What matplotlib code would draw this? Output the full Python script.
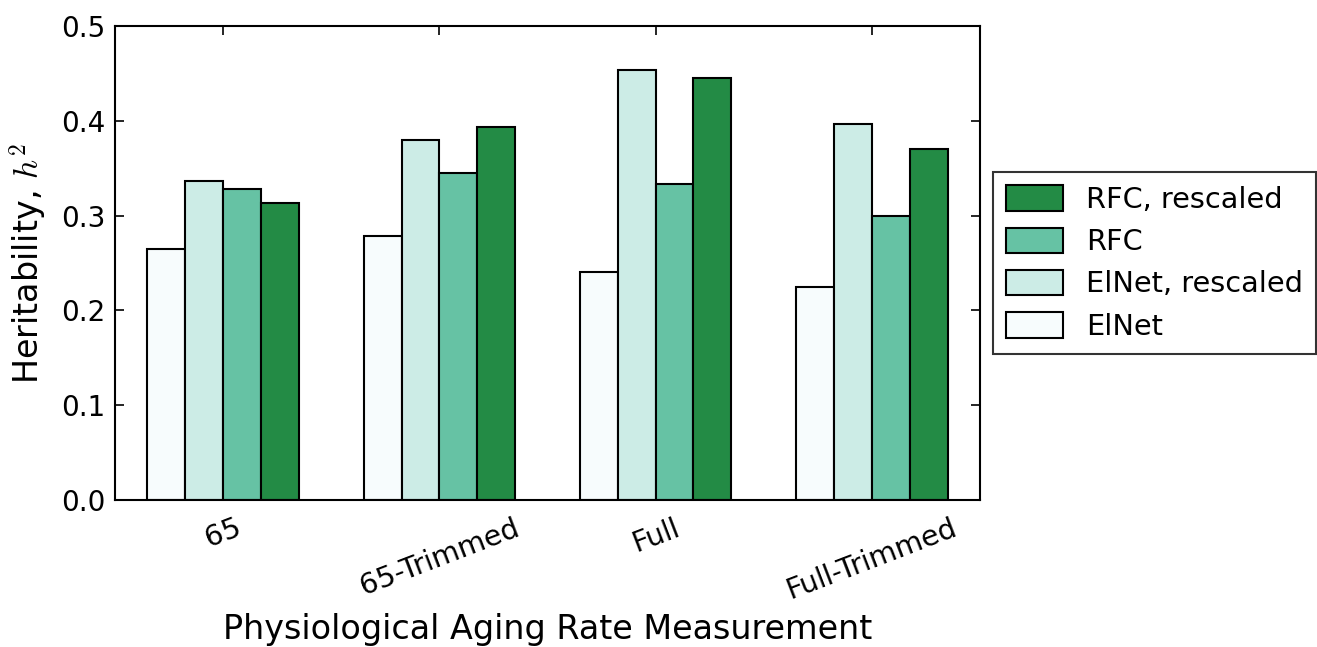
import numpy as np
import matplotlib
matplotlib.use("Agg")
import matplotlib.pyplot as plt

measurements = ["65", "65-Trimmed", "Full", "Full-Trimmed"]
series_names = ["ElNet", "ElNet, rescaled", "RFC", "RFC, rescaled"]
elnet = [0.265, 0.278, 0.241, 0.225]
elnet_rescaled = [0.337, 0.380, 0.454, 0.397]
rfc = [0.328, 0.345, 0.333, 0.300]
rfc_rescaled = [0.313, 0.393, 0.445, 0.370]
colors = ["#f7fcfd", "#ccece6", "#66c2a4", "#238b45"]

plt.rcParams["font.family"] = "DejaVu Sans"
plt.rcParams["mathtext.fontset"] = "cm"

fig = plt.figure(figsize=(13.17, 6.47), dpi=100)
ax = fig.add_axes([115 / 1317, 1 - 500 / 647, 865 / 1317, 474 / 647])

x = np.arange(len(measurements))
width = 0.175
handles = []
for k, (vals, name) in enumerate(zip([elnet, elnet_rescaled, rfc, rfc_rescaled], series_names)):
    b = ax.bar(x - 2 * width + k * width, vals, width, align="edge",
               color=colors[k], edgecolor="black", linewidth=1.5, label=name)
    handles.append(b)

ax.set_xlim(-0.5, 3.5)
ax.set_ylim(0, 0.5)
ax.set_yticks(np.arange(0, 0.51, 0.1))
ax.set_xticks(x)
ax.set_xticklabels(measurements, rotation=21, ha="center")
ax.tick_params(direction="in", top=True, right=True, length=6.5, width=1.2,
               labelsize=20, pad=7)
ax.tick_params(axis="x", labelsize=20.5, pad=10)
for s in ax.spines.values():
    s.set_linewidth(1.5)

ax.set_ylabel(r"Heritability, $h^2$", fontsize=24, labelpad=8)
ax.set_xlabel("Physiological Aging Rate Measurement", fontsize=24)
ax.xaxis.set_label_coords(0.5, -0.238)

leg = ax.legend(handles[::-1], series_names[::-1], loc="center left",
                bbox_to_anchor=(1.015, 0.5), borderaxespad=0, fontsize=20.7,
                fancybox=False, handlelength=2.0, handleheight=1.0,
                borderpad=0.45, labelspacing=0.47, handletextpad=0.8)
leg.get_frame().set_edgecolor("black")
leg.get_frame().set_linewidth(1.5)

fig.savefig("out.png", dpi=100)
